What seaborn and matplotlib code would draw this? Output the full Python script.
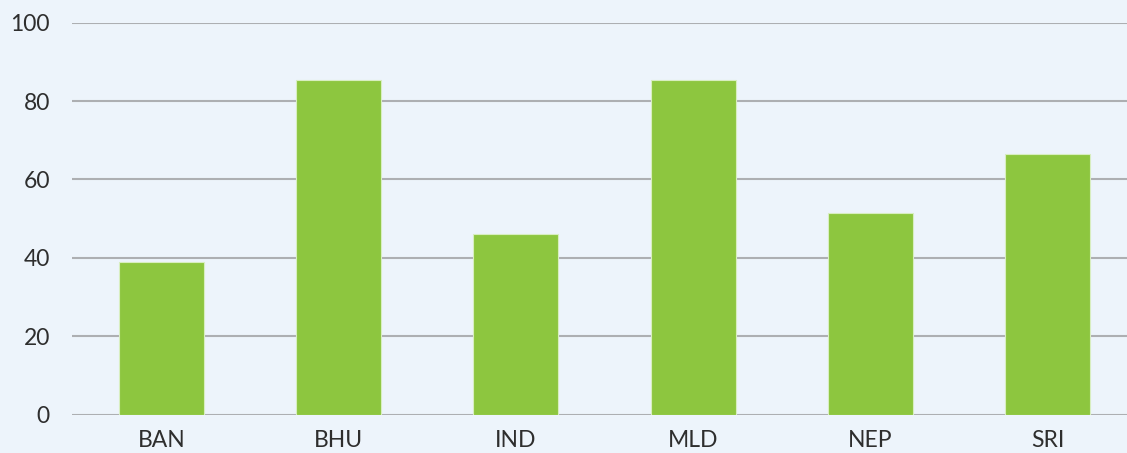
import matplotlib
matplotlib.use("Agg")
import matplotlib.pyplot as plt
import pandas as pd
import seaborn as sns

# === DATEN ===
laender = ["BAN", "BHU", "IND", "MLD", "NEP", "SRI"]
werte = [38.9, 85.3, 46.0, 85.4, 51.5, 66.5]
y_ticks = [0, 20, 40, 60, 80, 100]

BG = "#EDF4FB"
GRUEN = "#8DC63F"
GRID = "#ADAFB2"
TEXT = "#2E2E2E"

sns.set_style("white")
plt.rcParams["font.family"] = ["Lato", "DejaVu Sans"]

df = pd.DataFrame({"land": laender, "wert": werte})

fig = plt.figure(figsize=(11.27, 4.53), dpi=100, facecolor=BG)
ax = fig.add_axes([0.0639, 0.0845, 0.9361, 0.8655])
ax.set_facecolor(BG)

sns.barplot(data=df, x="land", y="wert", color=GRUEN, width=0.48,
            edgecolor="#D8EEC0", linewidth=0.8, saturation=1, ax=ax, zorder=3)

ax.set_ylim(0, 100)
ax.set_xlim(-0.506, 5.449)
ax.set_yticks(y_ticks)
for t in y_ticks:
    ax.axhline(t, color=GRID, linewidth=1.5, zorder=1)

for s in ax.spines.values():
    s.set_visible(False)

ax.tick_params(axis="both", length=0, labelsize=16.5, colors=TEXT)
ax.tick_params(axis="y", pad=16)
ax.tick_params(axis="x", pad=11)
ax.set_xlabel("")
ax.set_ylabel("")

fig.savefig("out.png", dpi=100, facecolor=BG)
